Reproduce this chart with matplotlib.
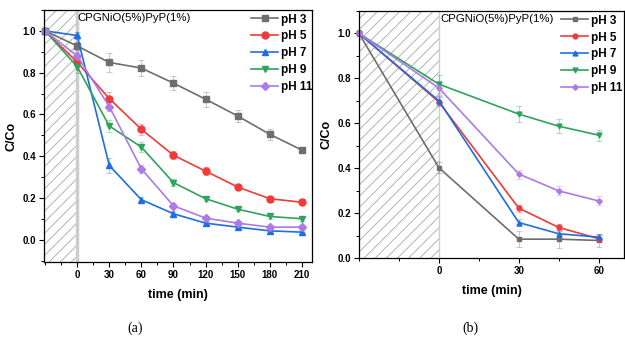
import matplotlib
matplotlib.use("Agg")
import matplotlib.pyplot as plt
import numpy as np
from matplotlib.patches import Rectangle
from matplotlib.ticker import MultipleLocator, FixedLocator

plt.rcParams['font.family'] = ['Liberation Sans', 'DejaVu Sans']
plt.rcParams['hatch.color'] = '#a8a8a8'
plt.rcParams['hatch.linewidth'] = 0.6

labels = ["pH 3", "pH 5", "pH 7", "pH 9", "pH 11"]
colors = ["#6e6e6e", "#f23a3a", "#1f6ee0", "#2ea35c", "#ad7ae6"]
markers = ["s", "o", "^", "v", "D"]

# (a) dark period followed by 210 min of irradiation
time_a = [-30, 0, 30, 60, 90, 120, 150, 180, 210]
ph3_a = [1.00, 0.928, 0.849, 0.822, 0.750, 0.673, 0.593, 0.505, 0.430]
ph5_a = [1.00, 0.850, 0.676, 0.529, 0.405, 0.329, 0.253, 0.197, 0.180]
ph7_a = [1.00, 0.978, 0.356, 0.192, 0.125, 0.080, 0.061, 0.043, 0.037]
ph9_a = [1.00, 0.829, 0.545, 0.444, 0.274, 0.197, 0.147, 0.112, 0.101]
ph11_a = [1.00, 0.880, 0.638, 0.340, 0.163, 0.104, 0.080, 0.061, 0.061]
err_a = [
    [0.0, 0.02, 0.045, 0.04, 0.035, 0.035, 0.03, 0.025, 0.015],
    [0.0, 0.02, 0.03, 0.025, 0.02, 0.02, 0.015, 0.015, 0.015],
    [0.0, 0.015, 0.035, 0.015, 0.012, 0.01, 0.01, 0.01, 0.01],
    [0.0, 0.03, 0.03, 0.025, 0.015, 0.012, 0.01, 0.01, 0.01],
    [0.0, 0.02, 0.02, 0.02, 0.015, 0.012, 0.01, 0.01, 0.01],
]

# (b) dark period followed by 60 min of irradiation
time_b = [-30, 0, 30, 45, 60]
ph3_b = [1.00, 0.402, 0.084, 0.084, 0.078]
ph5_b = [1.00, 0.695, 0.222, 0.136, 0.086]
ph7_b = [1.00, 0.700, 0.158, 0.108, 0.093]
ph9_b = [1.00, 0.774, 0.641, 0.587, 0.547]
ph11_b = [1.00, 0.757, 0.374, 0.299, 0.254]
err_b = [
    [0.0, 0.025, 0.035, 0.04, 0.03],
    [0.0, 0.02, 0.015, 0.015, 0.015],
    [0.0, 0.02, 0.015, 0.015, 0.015],
    [0.0, 0.04, 0.035, 0.03, 0.025],
    [0.0, 0.03, 0.02, 0.02, 0.02],
]

sample = "CPGNiO(5%)PyP(1%)"

fig = plt.figure(figsize=(6.25, 3.42), dpi=100)
ax_a = fig.add_axes([0.0704, 0.2339, 0.4288, 0.7369])
ax_b = fig.add_axes([0.5744, 0.2456, 0.4240, 0.7222])


def draw_panel(ax, t, series, errs, xlim, ylim, ms, major_x, minor_x, band_w,
               leg_x):
    ax.set_xlim(*xlim)
    ax.set_ylim(*ylim)
    ax.add_patch(Rectangle((xlim[0], ylim[0]), 0 - xlim[0], ylim[1] - ylim[0],
                           facecolor='none', edgecolor='#a8a8a8', hatch='///',
                           linewidth=0, zorder=0))
    ax.axvline(0, color='#cdcdcd', lw=band_w, zorder=0.5)
    for y, e, c, m, lab in zip(series, errs, colors, markers, labels):
        ax.errorbar(t, y, yerr=e, fmt='none', ecolor=c, alpha=0.35,
                    elinewidth=0.8, capsize=2, capthick=0.8, zorder=1)
        ax.plot(t, y, color=c, marker=m,
                markersize=ms * (0.8 if m == 'D' else 1.0), lw=1.2,
                label=lab, zorder=2, clip_on=False)
    ax.xaxis.set_major_locator(FixedLocator(major_x))
    ax.xaxis.set_minor_locator(FixedLocator(minor_x))
    ax.yaxis.set_major_locator(MultipleLocator(0.2))
    ax.yaxis.set_minor_locator(MultipleLocator(0.1))
    ax.tick_params(which='major', direction='out', length=3.5, width=0.8,
                   labelsize=7, pad=2)
    ax.tick_params(which='minor', direction='out', length=2, width=0.7)
    for lab in ax.get_xticklabels() + ax.get_yticklabels():
        lab.set_fontweight('bold')
    for s in ax.spines.values():
        s.set_linewidth(0.9)
    ax.set_xlabel("time (min)", fontsize=9, fontweight='bold', labelpad=7)
    ax.set_ylabel("C/Co", fontsize=9, fontweight='bold', labelpad=4)
    ax.text(0.5, ylim[1] - 0.015, sample, fontsize=8.2, va='top', ha='left')
    leg = ax.legend(loc='upper left', bbox_to_anchor=(leg_x, 1.0), frameon=False,
                    prop={'size': 8.5, 'weight': 'bold'},
                    handlelength=2.3, handletextpad=0.2, labelspacing=0.42,
                    borderaxespad=0.1, borderpad=0.2)
    return leg


draw_panel(ax_a, time_a, [ph3_a, ph5_a, ph7_a, ph9_a, ph11_a], err_a,
           (-31, 219.5), (-0.106, 1.10), 5,
           [0, 30, 60, 90, 120, 150, 180, 210],
           [-30, -15, 15, 45, 75, 105, 135, 165, 195], 2.5, 0.76)
draw_panel(ax_b, time_b, [ph3_b, ph5_b, ph7_b, ph9_b, ph11_b], err_b,
           (-30, 69.5), (0.0, 1.10), 3.5,
           [0, 30, 60], [-30, -15, 15, 45], 1.0, 0.75)

fig.text(0.216, 0.03, "(a)", fontsize=10, family='Liberation Serif', ha='center')
fig.text(0.752, 0.03, "(b)", fontsize=10, family='Liberation Serif', ha='center')

fig.savefig("out.png", dpi=100)
